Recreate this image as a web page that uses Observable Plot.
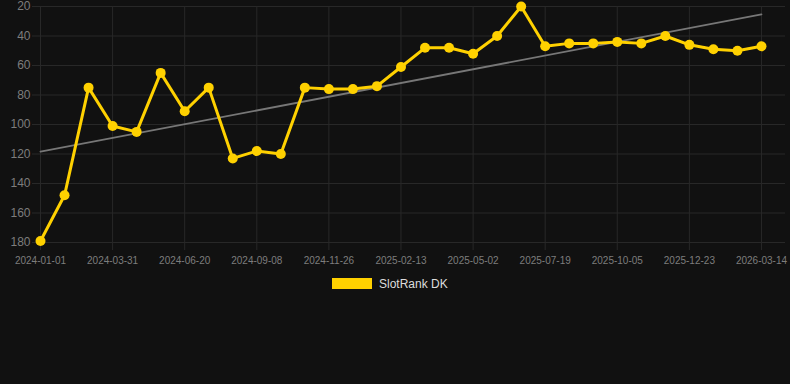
<!DOCTYPE html>
<html>
<head>
<meta charset="utf-8">
<script src="https://cdn.jsdelivr.net/npm/d3@7"></script>
<script src="https://cdn.jsdelivr.net/npm/@observablehq/plot@0.6"></script>
<style>
  html, body { margin: 0; padding: 0; background: #111111; }
  body { width: 790px; height: 384px; position: relative; overflow: hidden; font-family: "Liberation Sans", Arial, Helvetica, sans-serif; }
  #chart svg { display: block; background: #111111; }
  #legend { position: absolute; left: 332px; top: 278px; display: flex; align-items: center; height: 11px; }
  #legend .sw { width: 40px; height: 11px; background: #ffd100; margin-right: 7px; }
  #legend .lb { color: #dddddd; font-size: 12px; line-height: 11px; position: relative; top: 1px; }
</style>
</head>
<body>
<div id="chart"></div>
<div id="legend"><div class="sw"></div><div class="lb">SlotRank DK</div></div>
<script>
// Tick labels (every 3rd data point)
const tickLabels = ["2024-01-01","2024-03-31","2024-06-20","2024-09-08","2024-11-26","2025-02-13","2025-05-02","2025-07-19","2025-10-05","2025-12-23","2026-03-14"];
// SlotRank DK rank values (one per point, evenly spaced)
const rankValues = [179,148,75,101,105,65,91,75,123,118,120,75,76,76,74,61,48,48,52,40,20,47,45,45,44,45,40,46,49,50,47];
const yTicks = [20,40,60,80,100,120,140,160,180];
const seriesName = "SlotRank DK";

const data = rankValues.map((v, i) => ({i, v}));
const xTicks = tickLabels.map((_, k) => k * 3);

const gridColor = "#282828";
const labelColor = "#7d7d7d";
const lineColor = "#ffd100";

const chart = Plot.plot({
  width: 790,
  height: 270,
  marginLeft: 40,
  marginRight: 5,
  marginTop: 6,
  marginBottom: 28,
  style: { background: "#111111", fontFamily: "'Liberation Sans', Arial, Helvetica, sans-serif" },
  x: { type: "linear", domain: [0, 31] },
  y: { domain: [20, 180], reverse: true },
  marks: [
    Plot.gridY(yTicks, { stroke: gridColor, strokeOpacity: 1, strokeWidth: 1 }),
    Plot.gridX(xTicks, { stroke: gridColor, strokeOpacity: 1, strokeWidth: 1 }),
    Plot.axisY(yTicks, { tickSize: 8, tickPadding: 2, stroke: gridColor, fill: labelColor, fontSize: 12, label: null }),
    Plot.axisX(xTicks, { tickSize: 8, tickPadding: 6, stroke: gridColor, fill: labelColor, fontSize: 10, label: null, tickFormat: d => tickLabels[d / 3] }),
    Plot.linearRegressionY(data, { x: "i", y: "v", ci: 0, stroke: "#777777", strokeWidth: 1.8 }),
    Plot.line(data, { x: "i", y: "v", stroke: lineColor, strokeWidth: 3, strokeLinejoin: "round" }),
    Plot.dot(data, { x: "i", y: "v", r: 5, fill: lineColor, stroke: null, title: d => `${seriesName}: ${d.v}` })
  ]
});
document.getElementById("chart").appendChild(chart);
</script>
</body>
</html>
